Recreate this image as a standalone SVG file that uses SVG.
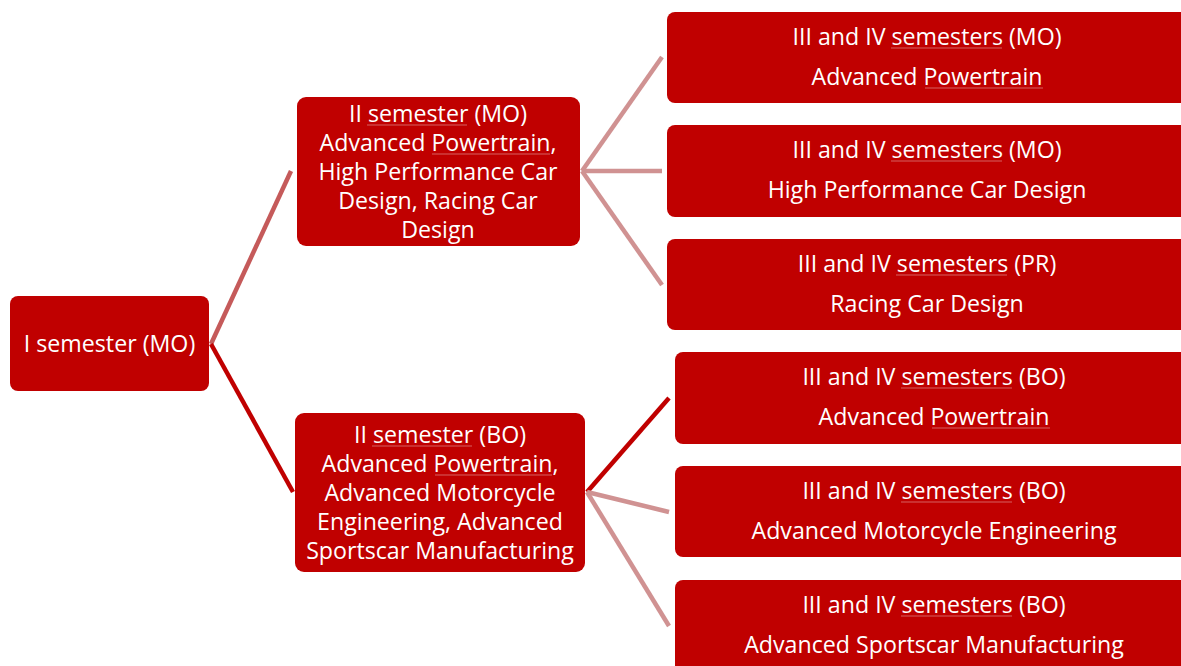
<svg xmlns="http://www.w3.org/2000/svg" width="1181" height="666" viewBox="0 0 1181 666">
<style>
.node{fill:#C00000}
.t{font-family:"Open Sans","Liberation Sans",sans-serif;font-size:23.2px;fill:#FFFFFF;text-anchor:middle}
.ul{stroke:#E3A2A2;stroke-width:1;fill:none;opacity:0.6}
.c{fill:none;stroke-width:4.5;stroke-linecap:butt}
.c1{stroke:#C55A5A}
.c2{stroke:#C00000}
.c3{stroke:#D09292}
</style>
<rect width="1181" height="666" fill="#FFFFFF"/>
<g id="connectors">
<line class="c c1" x1="211" y1="344" x2="291" y2="171"/>
<line class="c c2" x1="211" y1="344" x2="293" y2="492"/>
<line class="c c3" x1="582" y1="171" x2="662" y2="57"/>
<line class="c c3" x1="582" y1="171" x2="662" y2="171"/>
<line class="c c3" x1="582" y1="171" x2="662" y2="285"/>
<line class="c c2" x1="587" y1="492" x2="669" y2="398"/>
<line class="c c3" x1="587" y1="492" x2="669" y2="512"/>
<line class="c c3" x1="587" y1="492" x2="669" y2="626"/>
</g>
<g id="n1">
<rect class="node" x="10" y="296" width="199" height="95" rx="8"/>
<text class="t" x="109.5" y="352">I semester (MO)</text>
</g>
<g id="n2">
<rect class="node" x="297" y="97" width="283" height="149" rx="9"/>
<text class="t" x="438" y="122">II semester (MO)</text>
<text class="t" x="438" y="151">Advanced Powertrain,</text>
<text class="t" x="438" y="180">High Performance Car</text>
<text class="t" x="438" y="209">Design, Racing Car</text>
<text class="t" x="438" y="238">Design</text>
<line class="ul" x1="367" y1="125" x2="467" y2="125"/>
<line class="ul" x1="432" y1="154" x2="550" y2="154"/>
</g>
<g id="n3">
<rect class="node" x="295" y="413" width="290" height="159" rx="9"/>
<text class="t" x="440" y="443">II semester (BO)</text>
<text class="t" x="440" y="472">Advanced Powertrain,</text>
<text class="t" x="440" y="501">Advanced Motorcycle</text>
<text class="t" x="440" y="530">Engineering, Advanced</text>
<text class="t" x="440" y="559">Sportscar Manufacturing</text>
<line class="ul" x1="372" y1="446" x2="472" y2="446"/>
<line class="ul" x1="435" y1="475" x2="552" y2="475"/>
</g>
<g id="n4">
<rect class="node" x="667" y="12" width="525" height="91" rx="8"/>
<text class="t" x="927" y="45">III and IV semesters (MO)</text>
<text class="t" x="927" y="85">Advanced Powertrain</text>
<line class="ul" x1="891" y1="48" x2="1002" y2="48"/>
<line class="ul" x1="925" y1="88" x2="1043" y2="88"/>
</g>
<g id="n5">
<rect class="node" x="667" y="125" width="525" height="92" rx="8"/>
<text class="t" x="927" y="158">III and IV semesters (MO)</text>
<text class="t" x="927" y="198">High Performance Car Design</text>
<line class="ul" x1="891" y1="161" x2="1002" y2="161"/>
</g>
<g id="n6">
<rect class="node" x="667" y="239" width="525" height="91" rx="8"/>
<text class="t" x="927" y="272">III and IV semesters (PR)</text>
<text class="t" x="927" y="312">Racing Car Design</text>
<line class="ul" x1="896" y1="275" x2="1007" y2="275"/>
</g>
<g id="n7">
<rect class="node" x="675" y="352" width="517" height="92" rx="8"/>
<text class="t" x="934" y="385">III and IV semesters (BO)</text>
<text class="t" x="934" y="425">Advanced Powertrain</text>
<line class="ul" x1="901" y1="388" x2="1012" y2="388"/>
<line class="ul" x1="932" y1="428" x2="1050" y2="428"/>
</g>
<g id="n8">
<rect class="node" x="675" y="466" width="517" height="91" rx="8"/>
<text class="t" x="934" y="499">III and IV semesters (BO)</text>
<text class="t" x="934" y="539">Advanced Motorcycle Engineering</text>
<line class="ul" x1="901" y1="502" x2="1012" y2="502"/>
</g>
<g id="n9">
<rect class="node" x="675" y="580" width="517" height="100" rx="8"/>
<text class="t" x="934" y="613">III and IV semesters (BO)</text>
<text class="t" x="934" y="653">Advanced Sportscar Manufacturing</text>
<line class="ul" x1="901" y1="616" x2="1012" y2="616"/>
</g>
</svg>
